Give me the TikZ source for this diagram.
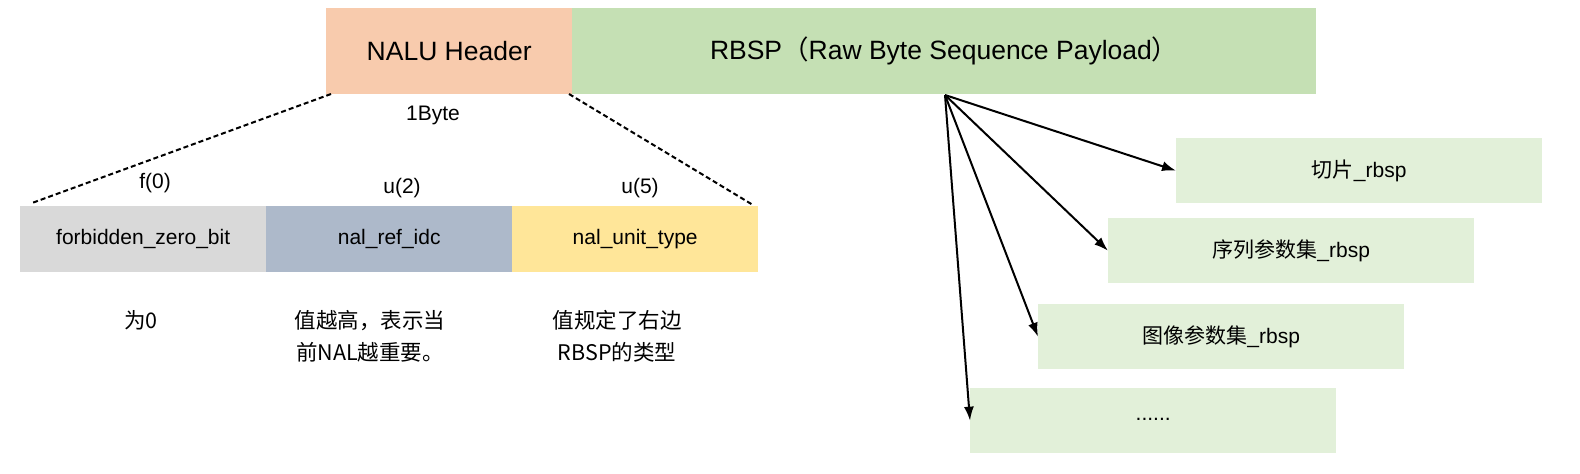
\documentclass[tikz,border=0pt]{standalone}
\usepackage{fontspec}
\setmainfont{Liberation Sans}
\newfontfamily\cjk{Noto Sans CJK SC}
\usetikzlibrary{arrows.meta}
\definecolor{peach}{HTML}{F8CBAD}
\definecolor{rbspgreen}{HTML}{C5E0B4}
\definecolor{lightgreen}{HTML}{E2F0D9}
\definecolor{fgray}{HTML}{D9D9D9}
\definecolor{fblue}{HTML}{ADB9CA}
\definecolor{fyellow}{HTML}{FFE699}
\begin{document}
\begin{tikzpicture}[x=1pt,y=-1pt,
  bigtxt/.style={font=\fontsize{26.5}{31}\selectfont},
  smalltxt/.style={font=\fontsize{21}{32}\selectfont},
  cjktxt/.style={font=\fontsize{21.5}{32}\selectfont\cjk},
  topbox/.style={minimum height=85.5pt, inner sep=0pt, anchor=north west, bigtxt},
  field/.style={minimum width=246pt, minimum height=66pt, inner sep=0pt, anchor=north west, smalltxt},
  subbox/.style={fill=lightgreen, minimum width=366pt, minimum height=65pt, inner sep=0pt, anchor=north west, smalltxt},
  guide/.style={line width=2pt, dash pattern=on 5pt off 3pt},
  arr/.style={-{Latex[length=14pt,width=10pt]}, line width=2pt}
]
\useasboundingbox (0,0) rectangle (1580,474);
\node[topbox, fill=peach, minimum width=246pt] (nalu) at (326,8) {NALU Header};
\node[topbox, fill=rbspgreen, minimum width=744pt] (rbsp) at (572,8) {RBSP{\cjk （}Raw Byte Sequence Payload{\cjk ）}};
\node[smalltxt] (byte) at (433,115) {1Byte};

\node[field, fill=fgray] (fzb) at (20,206) {forbidden\_zero\_bit};
\node[field, fill=fblue] (nri) at (266,206) {nal\_ref\_idc};
\node[field, fill=fyellow] (nut) at (512,206) {nal\_unit\_type};

\node[smalltxt] (f0) at (155,183) {f(0)};
\node[smalltxt] (u2) at (402,188) {u(2)};
\node[smalltxt] (u5) at (640,188) {u(5)};

\coordinate (dl1) at (331,94);
\coordinate (dl2) at (32,203);
\coordinate (dr1) at (569,94);
\coordinate (dr2) at (753,205);
\draw[guide] (dl1) -- (dl2);
\draw[guide] (dr1) -- (dr2);

\node[cjktxt] (d1) at (141,320) {为0};
\node[cjktxt, align=center] (d2) at (370,336) {值越高，表示当\\前NAL越重要。};
\node[cjktxt, align=center] (d3) at (617,336) {值规定了右边\\RBSP的类型};

\node[subbox] (s1) at (1176,138) {{\cjk 切片}\_rbsp};
\node[subbox] (s2) at (1108,218) {{\cjk 序列参数集}\_rbsp};
\node[subbox] (s3) at (1038,304) {{\cjk 图像参数集}\_rbsp};
\node[subbox] (s4) at (970,388) {\raisebox{3pt}{......}};

\coordinate (src) at (945,95);
\draw[arr] (src) -- (s1.west);
\draw[arr] (src) -- (s2.west);
\draw[arr] (src) -- (s3.west);
\draw[arr] (src) -- (s4.west);
\end{tikzpicture}
\end{document}
